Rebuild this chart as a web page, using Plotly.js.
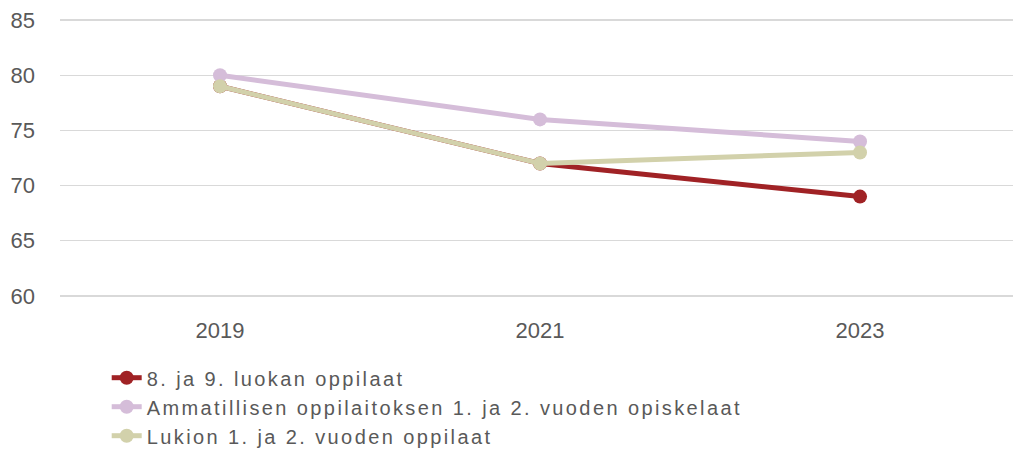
<!DOCTYPE html>
<html>
<head>
<meta charset="utf-8">
<script src="https://cdn.plot.ly/plotly-3.0.1.min.js"></script>
<style>
html,body{margin:0;padding:0;background:#fff;}
#chart{width:1013px;height:450px;}
#chart .legendtext{letter-spacing:2.4px;}
#chart .legend .scrollbox{clip-path:none !important;}
</style>
</head>
<body>
<div id="chart"></div>
<script>
const years = ["2019", "2021", "2023"];
const seriesNames = [
  "8. ja 9. luokan oppilaat",
  "Ammatillisen oppilaitoksen 1. ja 2. vuoden opiskelaat",
  "Lukion 1. ja 2. vuoden oppilaat"
];
const perus = [79, 72, 69];
const ammatillinen = [80, 76, 74];
const lukio = [79, 72, 73];
const yTicks = [60, 65, 70, 75, 80, 85];

const colors = ["#A02225", "#D5BDD9", "#D2D1AB"];
const values = [perus, ammatillinen, lukio];

const data = values.map((v, i) => ({
  x: years, y: v, name: seriesNames[i], type: "scatter", mode: "lines+markers",
  line: {color: colors[i], width: 5},
  marker: {color: colors[i], size: 14}
}));

const layout = {
  width: 1013, height: 450,
  margin: {l: 60, r: 0, t: 19, b: 153},
  paper_bgcolor: "#fff", plot_bgcolor: "#fff",
  font: {family: "Liberation Sans, Arial, sans-serif", color: "#595959", size: 20},
  xaxis: {type: "category", range: [-0.5, 2.478], showgrid: false, zeroline: false,
          showline: false, ticks: "", ticklabelstandoff: 18,
          tickfont: {size: 22, color: "#595959"}, automargin: false},
  yaxis: {range: [59.9, 85.1], tickvals: yTicks, showgrid: true, gridcolor: "#D9D9D9", gridwidth: 1.5,
          zeroline: false, showline: false, ticks: "", ticklabelstandoff: 24,
          tickfont: {size: 22, color: "#595959"}, automargin: false},
  showlegend: true,
  legend: {orientation: "v", x: 0.049, xanchor: "left", yref: "container", y: 0.204, yanchor: "top",
           font: {size: 20, color: "#595959"}, tracegroupgap: 0, bgcolor: "rgba(0,0,0,0)"}
};
Plotly.newPlot("chart", data, layout, {displayModeBar: false, staticPlot: true});
</script>
</body>
</html>
